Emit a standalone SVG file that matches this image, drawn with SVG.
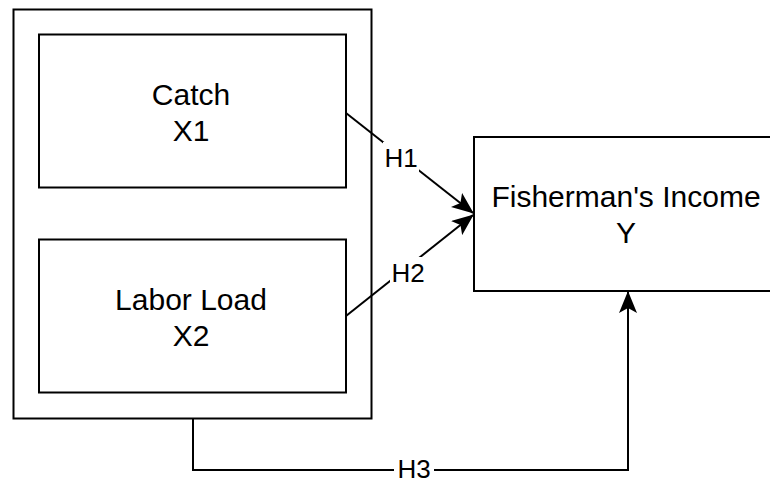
<svg xmlns="http://www.w3.org/2000/svg" width="770" height="479" viewBox="0 0 770 479">
<style>
.box{fill:#fff;stroke:#000;stroke-width:2}
.t{font-family:"Liberation Sans",Arial,sans-serif;font-size:30px;fill:#000;text-anchor:middle}
.l{font-family:"Liberation Sans",Arial,sans-serif;font-size:26px;fill:#000;text-anchor:middle}
.c{fill:none;stroke:#000;stroke-width:2}
.lb{fill:#fff}
</style>
<defs>
<marker id="arr" viewBox="0 0 22 18" refX="21" refY="9" markerWidth="22" markerHeight="18" markerUnits="userSpaceOnUse" orient="auto">
<path d="M0,0 L22,9 L0,18 L5,9 Z" fill="#000"/>
</marker>
</defs>
<g id="group">
<rect class="box" x="13.5" y="9.5" width="358" height="409"/>
</g>
<g id="x1">
<rect class="box" x="39" y="34.5" width="307" height="153"/>
<text class="t" x="191" y="105">Catch</text>
<text class="t" x="191" y="141">X1</text>
</g>
<g id="x2">
<rect class="box" x="39" y="239.5" width="307" height="153"/>
<text class="t" x="191" y="310">Labor Load</text>
<text class="t" x="191" y="346">X2</text>
</g>
<g id="y">
<rect class="box" x="474" y="137" width="310" height="154"/>
<text class="t" x="626" y="207">Fisherman's Income</text>
<text class="t" x="626" y="243">Y</text>
</g>
<g id="connectors">
<path class="c" d="M346,113 L473,213" marker-end="url(#arr)"/>
<path class="c" d="M346,316 L473,215" marker-end="url(#arr)"/>
<path class="c" d="M193,419 L193,470 L628,470 L628,292" marker-end="url(#arr)"/>
<rect class="lb" x="383" y="142" width="36" height="30"/>
<text class="l" x="401" y="167">H1</text>
<rect class="lb" x="390" y="257" width="36" height="30"/>
<text class="l" x="408" y="282">H2</text>
<rect class="lb" x="394" y="458" width="40" height="21"/>
<text class="l" x="414" y="478">H3</text>
</g>
</svg>
